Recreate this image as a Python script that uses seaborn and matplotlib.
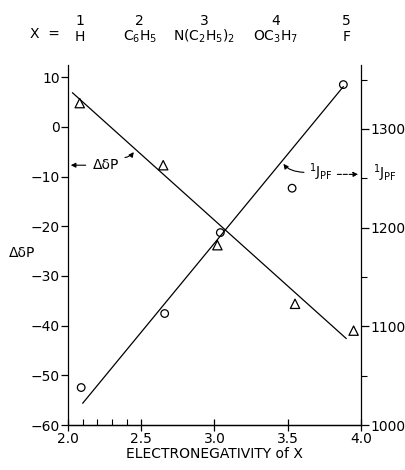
import matplotlib
matplotlib.use('Agg')
import matplotlib.pyplot as plt
import seaborn as sns
from matplotlib.ticker import FixedLocator

sns.set_style("ticks")
plt.rcParams['font.family'] = ['DejaVu Sans']
plt.rcParams['mathtext.default'] = 'regular'
plt.rcParams['text.color'] = 'black'
plt.rcParams['xtick.color'] = 'black'
plt.rcParams['ytick.color'] = 'black'
plt.rcParams['axes.labelcolor'] = 'black'

# --- data ---
# delta-delta-P (left axis), triangles
dd_en = [2.08, 2.65, 3.02, 3.55, 3.95]
dd_val = [4.8, -7.7, -23.8, -35.6, -41.0]
dd_fit_en = [2.03, 3.90]
dd_fit_val = [6.9, -42.6]

# 1J(PF) (right axis), circles
j_en = [2.09, 2.66, 3.04, 3.53, 3.88]
j_val = [1038, 1113, 1195, 1240, 1345]
j_fit_en = [2.10, 3.88]
j_fit_val = [1022, 1343]

# substituents X across the top
sub_nums = ['1', '2', '3', '4', '5']
sub_names = ['H', r'C$_6$H$_5$', r'N(C$_2$H$_5$)$_2$', r'OC$_3$H$_7$', 'F']
sub_pos = [2.08, 2.49, 2.93, 3.42, 3.90]

fig = plt.figure(figsize=(4.06, 4.70), dpi=100)
ax = fig.add_axes([0.1675, 0.0957, 0.7215, 0.7663])
ax2 = ax.twinx()

sns.lineplot(x=dd_fit_en, y=dd_fit_val, ax=ax, color='black', lw=0.9)
sns.scatterplot(x=dd_en, y=dd_val, ax=ax, marker='^', s=45,
                facecolor='none', edgecolor='black', linewidth=0.9)
sns.lineplot(x=j_fit_en, y=j_fit_val, ax=ax2, color='black', lw=0.9)
sns.scatterplot(x=j_en, y=j_val, ax=ax2, marker='o', s=30,
                facecolor='none', edgecolor='black', linewidth=0.9)

ax.set_xlim(2.0, 4.0)
ax.set_ylim(-60, 12.5)
ax2.set_ylim(1000, 1365)

ax.set_xticks([2.0, 2.5, 3.0, 3.5, 4.0])
ax.set_xticklabels(['2.0', '2.5', '3.0', '3.5', '4.0'])
ax.xaxis.set_minor_locator(FixedLocator([2.1, 2.2, 2.3, 2.4]))
ax.set_yticks(range(-60, 11, 10))
ax2.set_yticks([1000, 1100, 1200, 1300])
ax2.yaxis.set_minor_locator(FixedLocator([1050, 1150, 1250, 1350]))

ax.tick_params(axis='x', which='major', direction='inout', length=8, width=0.9,
               labelsize=10, pad=1)
ax.tick_params(axis='x', which='minor', direction='in', length=4, width=0.8)
ax.tick_params(axis='y', direction='out', length=5, width=0.9, labelsize=10, pad=1)
ax2.tick_params(axis='y', which='major', direction='out', length=6, width=0.9,
                labelsize=10, pad=1)
ax2.tick_params(axis='y', which='minor', direction='out', length=4, width=0.8)

for a in (ax, ax2):
    a.spines['top'].set_visible(False)
    for s in a.spines.values():
        s.set_linewidth(0.9)
        s.set_color('black')
ax2.spines['left'].set_visible(False)
ax.spines['right'].set_visible(False)

ax.set_xlabel('ELECTRONEGATIVITY of X', fontsize=10, labelpad=1)
ax.set_ylabel('')
ax2.set_ylabel('')
fig.text(0.055, 0.462, 'ΔδP', fontsize=10, ha='center', va='center')
fig.text(0.948, 0.632, r'$^1J_{PF}$', fontsize=10, ha='center', va='center')

# substituent header
fig.text(0.11, 0.928, 'X  =', fontsize=10, ha='center', va='center')
for num, name, xpos in zip(sub_nums, sub_names, sub_pos):
    xf = fig.transFigure.inverted().transform(ax.transData.transform((xpos, 0)))[0]
    fig.text(xf, 0.955, num, fontsize=10, ha='center', va='center')
    fig.text(xf, 0.922, name, fontsize=10, ha='center', va='center')

# in-plot annotations
arrow = dict(arrowstyle='-|>', color='black', lw=0.8, mutation_scale=7)
ax.annotate('', xy=(2.0, -7.7), xytext=(2.14, -7.7), arrowprops=arrow)
ax.text(2.26, -7.7, 'ΔδP', fontsize=10, ha='center', va='center')
ax.annotate('', xy=(2.46, -4.6), xytext=(2.37, -6.2),
            arrowprops=dict(arrow, connectionstyle='angle3,angleA=0,angleB=60'))

ax2.text(3.73, 1256, r'$^1J_{PF}$', fontsize=10, ha='center', va='center')
ax2.annotate('', xy=(4.0, 1254), xytext=(3.82, 1254),
             arrowprops=dict(arrow, ls='--'))
ax2.annotate('', xy=(3.46, 1267), xytext=(3.63, 1256),
             arrowprops=dict(arrow, connectionstyle='angle3,angleA=0,angleB=-60'))

fig.savefig('out.png', dpi=100)
